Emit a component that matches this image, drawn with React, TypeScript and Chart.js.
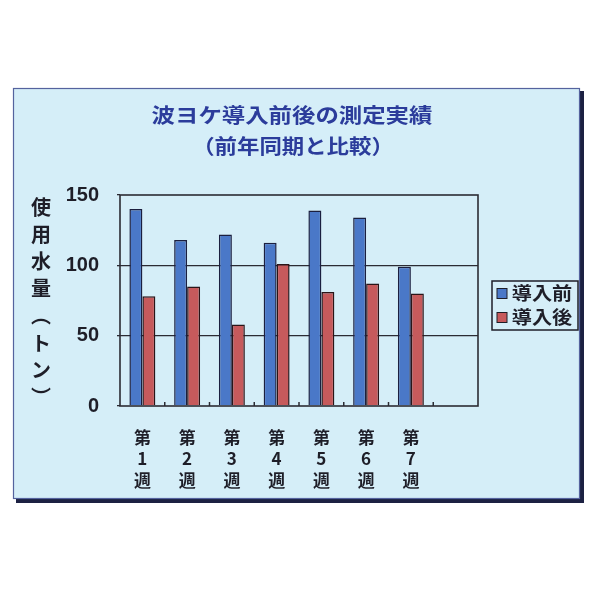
import React, { useEffect, useRef } from "react";
import { Chart, registerables } from "chart.js";

Chart.register(...registerables);

const titleLines = ["波ヨケ導入前後の測定実績", "（前年同期と比較）"];
const weekLabels = [["第", "1", "週"], ["第", "2", "週"], ["第", "3", "週"], ["第", "4", "週"], ["第", "5", "週"], ["第", "6", "週"], ["第", "7", "週"], ""];
const seriesNames = ["導入前", "導入後"];
const beforeValues = [140, 118, 122, 116, 139, 134, 99, null];
const afterValues = [78, 85, 58, 101, 81, 87, 80, null];
const yTitleChars = ["使", "用", "水", "量", "︵", "ト", "ン", "︶"];
const yMin = 0;
const yMax = 150;
const yStep = 50;

const PANEL = "#d5eef8";
const BLUE = "#4a78c8";
const RED = "#c65a5c";
const CJK = "'Noto Sans CJK JP', 'Noto Sans', sans-serif";

function drawStretched(ctx: CanvasRenderingContext2D, text: string, cx: number, cy: number, sx: number) {
  ctx.save();
  ctx.translate(cx, cy);
  ctx.scale(sx, 1);
  ctx.textAlign = "center";
  ctx.textBaseline = "middle";
  ctx.fillText(text, 0, 0);
  ctx.restore();
}

const decorPlugin = {
  id: "decor",
  beforeDraw(chart: any) {
    const ctx = chart.ctx as CanvasRenderingContext2D;
    ctx.save();
    ctx.fillStyle = "#ffffff";
    ctx.fillRect(0, 0, chart.width, chart.height);
    // shadow
    ctx.fillStyle = "#1c2142";
    ctx.fillRect(16, 91, 568, 412);
    // panel
    ctx.fillStyle = PANEL;
    ctx.fillRect(13, 88, 567, 411);
    ctx.strokeStyle = "#55639e";
    ctx.lineWidth = 1.2;
    ctx.strokeRect(13.5, 88.5, 566, 410);
    ctx.restore();
  },
  afterDraw(chart: any) {
    const ctx = chart.ctx as CanvasRenderingContext2D;
    const a = chart.chartArea;
    ctx.save();
    // plot border
    ctx.strokeStyle = "#2b2b33";
    ctx.lineWidth = 1.6;
    ctx.strokeRect(a.left, a.top, a.right - a.left, a.bottom - a.top);

    // small inward ticks at category boundaries on the bottom axis
    const xs = chart.scales.x;
    ctx.lineWidth = 1.5;
    for (let i = 1; i < weekLabels.length; i++) {
      const bx = (xs.getPixelForTick(i - 1) + xs.getPixelForTick(i)) / 2;
      ctx.beginPath();
      ctx.moveTo(bx, a.bottom);
      ctx.lineTo(bx, a.bottom - 4);
      ctx.stroke();
    }

    // title
    ctx.fillStyle = "#2b3c9b";
    ctx.font = `bold 20px ${CJK}`;
    drawStretched(ctx, titleLines[0], 292, 115, 1.17);
    drawStretched(ctx, titleLines[1], 293, 146, 1.12);

    // y axis title, stacked
    ctx.fillStyle = "#1e1e28";
    ctx.font = `bold 20px ${CJK}`;
    const yTop = 207;
    const yGap = 27.2;
    yTitleChars.forEach((ch, i) => {
      drawStretched(ctx, ch, 41, yTop + i * yGap, 1);
    });

    // legend
    const lx = 492, ly = 281, lw = 86, lh = 49;
    ctx.strokeStyle = "#1e1e28";
    ctx.lineWidth = 1.5;
    ctx.strokeRect(lx, ly, lw, lh);
    const colors = [BLUE, RED];
    seriesNames.forEach((name, i) => {
      const cy = ly + 12.5 + i * 24;
      ctx.fillStyle = colors[i];
      ctx.fillRect(lx + 5, cy - 5, 10, 10);
      ctx.strokeStyle = "#1e1e28";
      ctx.lineWidth = 1;
      ctx.strokeRect(lx + 5, cy - 5, 10, 10);
      ctx.fillStyle = "#1e1e28";
      ctx.font = `bold 18px ${CJK}`;
      drawStretched(ctx, name, lx + 50, cy, 1.12);
    });
    ctx.restore();
  },
};

export default function App() {
  const ref = useRef<HTMLCanvasElement | null>(null);
  useEffect(() => {
    document.body.style.margin = "0";
    const canvas = ref.current;
    if (!canvas) return;
    const chart = new Chart(canvas, {
      type: "bar",
      data: {
        labels: weekLabels as any,
        datasets: [
          {
            label: seriesNames[0],
            data: beforeValues as any,
            backgroundColor: BLUE,
            borderColor: "#1b1f3f",
            borderWidth: 1.5,
            borderSkipped: "bottom",
          },
          {
            label: seriesNames[1],
            data: afterValues as any,
            backgroundColor: RED,
            borderColor: "#2a1518",
            borderWidth: 1.5,
            borderSkipped: "bottom",
          },
        ],
      },
      options: {
        responsive: false,
        animation: false,
        devicePixelRatio: 1,
        datasets: { bar: { categoryPercentage: 0.58, barPercentage: 1 } },
        layout: { padding: { left: 0, top: 195, right: 122, bottom: 94 } },
        plugins: {
          legend: { display: false },
          title: { display: false },
          tooltip: { enabled: false },
        },
        scales: {
          x: {
            grid: { display: false },
            border: { display: false },
            ticks: {
              autoSkip: false,
              maxRotation: 0,
              minRotation: 0,
              padding: 13,
              color: "#1e1e28",
              font: { family: CJK, size: 17, weight: "bold", lineHeight: 1.25 },
            },
            afterFit(scale: any) {
              scale.height = 100;
            },
          },
          y: {
            min: yMin,
            max: yMax,
            border: { display: false },
            grid: {
              drawTicks: true,
              tickLength: 3,
              tickColor: "#2b2b33",
              lineWidth: 1.3,
              color: (c: any) =>
                c.tick && (c.tick.value === 50 || c.tick.value === 100) ? "#2b2b33" : "rgba(0,0,0,0)",
            },
            ticks: {
              stepSize: yStep,
              padding: 18,
              color: "#1e1e28",
              font: { family: "'Liberation Sans', Arial, sans-serif", size: 20, weight: "bold" },
            },
            afterFit(scale: any) {
              scale.width = 120;
            },
          },
        },
      },
      plugins: [decorPlugin],
    });
    return () => chart.destroy();
  }, []);
  return (
    <div style={{ position: "absolute", left: 0, top: 0, width: 600, height: 600, background: "#fff" }}>
      <canvas ref={ref} width={600} height={600} style={{ width: 600, height: 600, display: "block" }} />
    </div>
  );
}
